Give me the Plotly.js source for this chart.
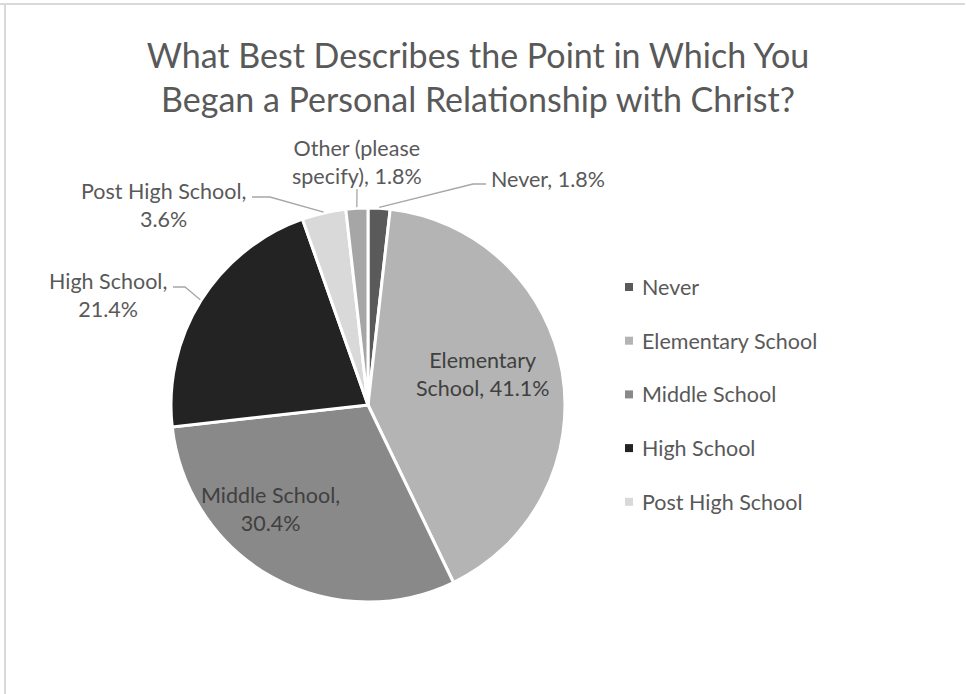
<!DOCTYPE html>
<html>
<head>
<meta charset="utf-8">
<script src="https://cdn.plot.ly/plotly-3.0.1.min.js"></script>
<style>html,body{margin:0;padding:0;background:#fff;}#chart{width:966px;height:694px;}</style>
</head>
<body>
<div id="chart"></div>
<script>
// ---- data ----
const categories = ['Never', 'Elementary School', 'Middle School', 'High School', 'Post High School', 'Other (please specify)'];
const percents = [1.8, 41.1, 30.4, 21.4, 3.6, 1.8];
const legendCategories = categories.slice(0, 5); // legend in the original is truncated after 5 entries
const titleText = 'What Best Describes the Point in Which You<br>Began a Personal Relationship with Christ?';

// ---- styles ----
const sliceColors = ['#5a5a5a', '#b4b4b4', '#898989', '#232323', '#d9d9d9', '#a6a6a6'];
const textColor = '#595959';
const insideTextColor = '#404040';
const FONT = 'Lato, "Open Sans", sans-serif';
const LABEL_SIZE = 21.5;
const W = 966, H = 694;
const cx = 368, cy = 405, R = 197; // pie geometry in px
const px = x => x / W;
const py = y => 1 - y / H;

// label layout: [where to break line (word index), x, y, anchor, leader start points]
const labelLayout = [
  {brk: null, x: 489, y: 179, xa: 'left', inside: false, lead: [[486, 184], [473, 184]]},
  {brk: 1, x: 482, y: 374, xa: 'center', inside: true, lead: null},
  {brk: 2, x: 270, y: 509, xa: 'center', inside: true, lead: null},
  {brk: 2, x: 108, y: 295, xa: 'center', inside: false, lead: [[173, 287], [185, 287]]},
  {brk: 3, x: 163, y: 205, xa: 'center', inside: false, lead: [[252, 197], [270, 197]]},
  {brk: 2, x: 357, y: 162, xa: 'center', inside: false, lead: [[357, 189]]}
];

function labelText(i) {
  const words = (categories[i] + ', ' + percents[i] + '%').split(' ');
  const b = labelLayout[i].brk;
  if (b === null) return words.join(' ');
  return words.slice(0, b).join(' ') + '<br>' + words.slice(b).join(' ');
}

// slice mid-angles from the data (clockwise from 12 o'clock)
const total = percents.reduce((a, b) => a + b, 0);
let cum = 0;
const midAngles = percents.map(v => { const m = (cum + v / 2) / total * 2 * Math.PI; cum += v; return m; });

const annotations = [];
const shapes = [];

categories.forEach((c, i) => {
  const L = labelLayout[i];
  annotations.push({
    text: labelText(i), xref: 'paper', yref: 'paper',
    x: px(L.x), y: py(L.y), xanchor: L.xa, yanchor: 'middle', align: 'center',
    showarrow: false, font: {family: FONT, size: LABEL_SIZE, color: L.inside ? insideTextColor : textColor}
  });
  if (L.lead) {
    const a = midAngles[i];
    const ex = cx + (R + 1) * Math.sin(a), ey = cy - (R + 1) * Math.cos(a);
    const pts = L.lead.concat([[ex, ey]]);
    const path = pts.map((p, k) => (k ? 'L' : 'M') + px(p[0]) + ',' + py(p[1])).join(' ');
    shapes.push({type: 'path', xref: 'paper', yref: 'paper', path: path,
      line: {color: '#a6a6a6', width: 1.3}});
  }
});

// custom legend (spacing as in original)
legendCategories.forEach((c, i) => {
  const y = 287 + i * 53.7;
  shapes.push({type: 'rect', xref: 'paper', yref: 'paper',
    x0: px(625), x1: px(633), y0: py(y - 4), y1: py(y + 4),
    fillcolor: sliceColors[i], line: {width: 0}});
  annotations.push({text: c, xref: 'paper', yref: 'paper', x: px(640), y: py(y),
    xanchor: 'left', yanchor: 'middle', showarrow: false,
    font: {family: FONT, size: LABEL_SIZE, color: textColor}});
});

// chart border (top and left visible)
shapes.push({type: 'line', xref: 'paper', yref: 'paper', x0: 0, x1: px(965), y0: py(4), y1: py(4), line: {color: '#d9d9d9', width: 2}});
shapes.push({type: 'line', xref: 'paper', yref: 'paper', x0: px(5), x1: px(5), y0: py(4), y1: 0, line: {color: '#d9d9d9', width: 2}});

const trace = {
  type: 'pie',
  labels: categories,
  values: percents,
  sort: false,
  direction: 'clockwise',
  rotation: 0,
  textinfo: 'none',
  hoverinfo: 'label+percent',
  marker: {colors: sliceColors, line: {color: '#ffffff', width: 3}},
  domain: {x: [px(cx - R), px(cx + R)], y: [py(cy + R), py(cy - R)]},
  showlegend: false
};

const layout = {
  width: W, height: H,
  margin: {l: 0, r: 0, t: 0, b: 0},
  paper_bgcolor: '#ffffff',
  title: {text: titleText, x: 478 / W, xanchor: 'center', y: py(68), yanchor: 'top',
    font: {family: FONT, size: 34, color: textColor}},
  showlegend: false,
  annotations: annotations,
  shapes: shapes
};

Plotly.newPlot('chart', [trace], layout, {displayModeBar: false, staticPlot: true});
</script>
</body>
</html>
